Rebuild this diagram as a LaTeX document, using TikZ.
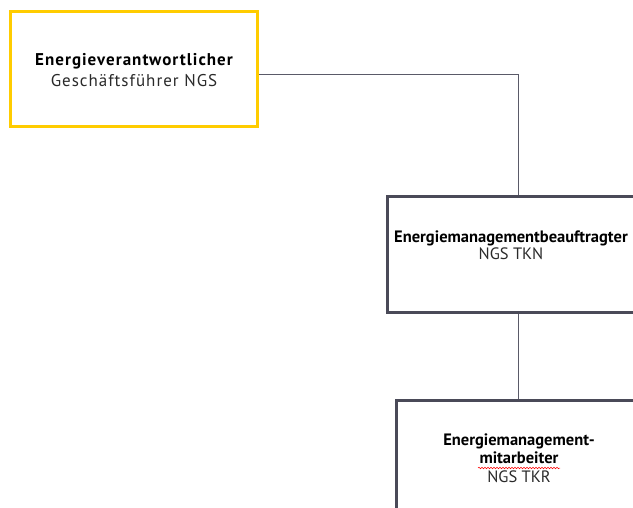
\documentclass[tikz,border=0pt]{standalone}
\usepackage{fontspec}
\setmainfont{PT Sans}
\usetikzlibrary{decorations.pathmorphing}
\definecolor{ngsyellow}{HTML}{FFCC00}
\definecolor{ngsframe}{HTML}{4A4A58}
\definecolor{ngsline}{HTML}{5A5A68}
\definecolor{ngstext}{HTML}{2A2A2A}
\begin{document}
\begin{tikzpicture}[x=1pt,y=-1pt,
  boxy/.style={draw=ngsyellow,line width=3pt,fill=white,minimum width=247pt,minimum height=115pt,inner sep=0pt},
  boxd/.style={draw=ngsframe,line width=3pt,fill=white,minimum width=262pt,minimum height=116pt,inner sep=0pt},
  lbl/.style={align=center,inner sep=0pt,text=ngstext},
  conn/.style={draw=ngsline,line width=0.9pt}]
\useasboundingbox (0,0) rectangle (633,508);
\node[boxy] (b1) at (134,69) {};
\node[lbl,font=\addfontfeatures{LetterSpace=6}\fontsize{17}{21}\selectfont] (t1) at (134,70) {\textbf{\color{black}Energieverantwortlicher}\\Geschäftsführer NGS};
\node[boxd] (b2) at (518,254.5) {};
\node[lbl,font=\fontsize{16.5}{17}\selectfont] (t2) at (511,245) {\textbf{\color{black}Energiemanagementbeauftragter}\\NGS TKN};
\node[boxd,minimum height=160pt] (b3) at (527,480) {};
\node[lbl,font=\fontsize{16.5}{18.5}\selectfont] (t3) at (519,458) {\textbf{\color{black}Energiemanagement-}\\\textbf{\color{black}mitarbeiter}\\NGS TKR};
\draw[conn] ([yshift=-5]b1.east) -| (b2.north);
\draw[conn] (b2.south) -- ([xshift=-9]b3.north);
\draw[red,line width=0.5pt,decorate,decoration={snake,amplitude=0.8pt,segment length=3pt}] ([xshift=-41,yshift=-10]t3.center) -- ([xshift=41,yshift=-10]t3.center);
\end{tikzpicture}
\end{document}
